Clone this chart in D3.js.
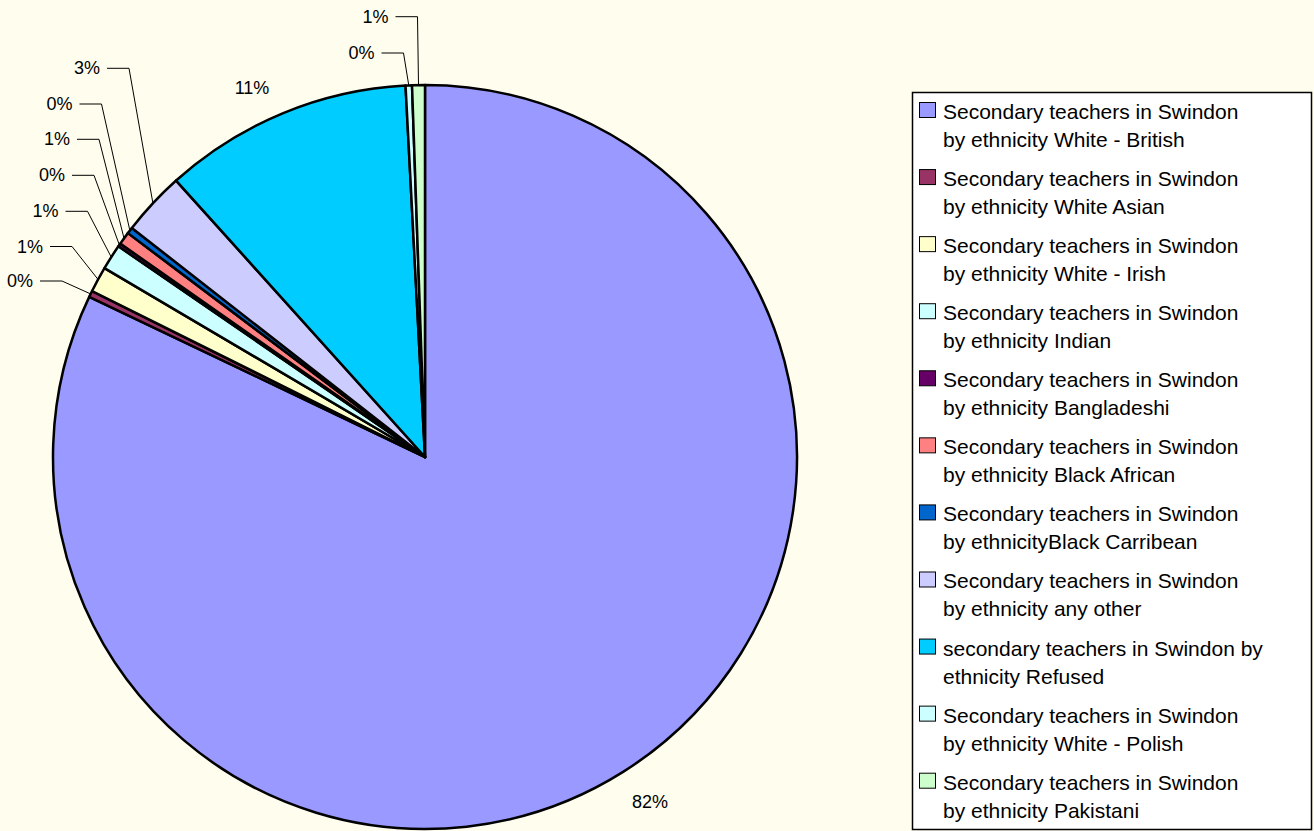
<!DOCTYPE html>
<html>
<head>
<meta charset="utf-8">
<script src="https://cdn.jsdelivr.net/npm/d3@7"></script>
<style>
  html, body { margin: 0; padding: 0; background: #FFFDEE; }
  svg { display: block; }
  text { font-family: "Liberation Sans", Arial, sans-serif; fill: #000; }
</style>
</head>
<body>
<script>
// ---- data ----
const categories = [
  "White - British", "White Asian", "White - Irish", "Indian", "Bangladeshi",
  "Black African", "Black Carribean", "any other", "Refused", "White - Polish", "Pakistani"
];
const values = [591, 2, 8, 8, 1, 4, 2, 20, 78, 2, 4];
const colors = ["#9999FF", "#993366", "#FFFFCC", "#CCFFFF", "#660066",
                "#FF8080", "#0066CC", "#CCCCFF", "#00CCFF", "#CCFFFF", "#CCFFCC"];
const legendLines = [
  ["Secondary teachers in Swindon", "by ethnicity White - British"],
  ["Secondary teachers in Swindon", "by ethnicity White Asian"],
  ["Secondary teachers in Swindon", "by ethnicity White - Irish"],
  ["Secondary teachers in Swindon", "by ethnicity Indian"],
  ["Secondary teachers in Swindon", "by ethnicity Bangladeshi"],
  ["Secondary teachers in Swindon", "by ethnicity Black African"],
  ["Secondary teachers in Swindon", "by ethnicityBlack Carribean"],
  ["Secondary teachers in Swindon", "by ethnicity any other"],
  ["secondary teachers in Swindon by", "ethnicity Refused"],
  ["Secondary teachers in Swindon", "by ethnicity White - Polish"],
  ["Secondary teachers in Swindon", "by ethnicity Pakistani"]
];

// ---- layout (label placement, not data) ----
// [x, y, anchor, hasLeader]
const labelLayout = [
  [650, 802, "middle", false],
  [33, 281, "end", true],
  [43, 246.5, "end", true],
  [58.5, 211.3, "end", true],
  [65, 175.3, "end", true],
  [70, 139.3, "end", true],
  [72.5, 104, "end", true],
  [100, 68.3, "end", true],
  [252, 88, "middle", false],
  [374.5, 53, "end", true],
  [388.5, 16.7, "end", true]
];

const W = 1314, H = 831;
const cx = 425, cy = 457, R = 372;

const svg = d3.select("body").append("svg")
  .attr("width", W).attr("height", H);
svg.append("rect").attr("width", W).attr("height", H).attr("fill", "#FFFDEE");

const total = d3.sum(values);
const pie = d3.pie().sort(null).value(d => d).startAngle(0).endAngle(2 * Math.PI);
const arcs = pie(values);
const arc = d3.arc().innerRadius(0).outerRadius(R);

const g = svg.append("g").attr("transform", `translate(${cx},${cy})`);
g.selectAll("path.slice").data(arcs).join("path")
  .attr("class", "slice")
  .attr("d", arc)
  .attr("fill", (d, i) => colors[i])
  .attr("stroke", "#000")
  .attr("stroke-width", 2.5)
  .attr("stroke-linejoin", "round");

// leader lines and labels
const fmt = v => Math.round(v / total * 100) + "%";
arcs.forEach((d, i) => {
  const [lx, ly, anchor, leader] = labelLayout[i];
  if (leader) {
    const mid = (d.startAngle + d.endAngle) / 2;
    const px = cx + R * Math.sin(mid), py = cy - R * Math.cos(mid);
    const x0 = lx + 7, x1 = lx + 29;
    svg.append("polyline")
      .attr("points", `${x0},${ly} ${x1},${ly} ${px},${py}`)
      .attr("fill", "none").attr("stroke", "#000").attr("stroke-width", 1);
  }
  svg.append("text")
    .attr("x", lx).attr("y", ly)
    .attr("text-anchor", anchor)
    .attr("dominant-baseline", "central")
    .attr("font-size", 18)
    .text(fmt(values[i]));
});

// legend
const lg = svg.append("g");
lg.append("rect")
  .attr("x", 912.5).attr("y", 92.5).attr("width", 399).attr("height", 737)
  .attr("fill", "#FFFFFF").attr("stroke", "#000").attr("stroke-width", 1.5);
const itemY = d3.scaleLinear().domain([0, categories.length - 1]).range([119, 119 + 670.7]);
categories.forEach((c, i) => {
  const y = itemY(i);
  lg.append("rect")
    .attr("x", 919.5).attr("y", y - 16.5).attr("width", 16).attr("height", 15)
    .attr("fill", colors[i]).attr("stroke", "#000").attr("stroke-width", 1);
  legendLines[i].forEach((t, k) => {
    lg.append("text")
      .attr("x", 943).attr("y", y + k * 28)
      .attr("font-size", 21)
      .text(t);
  });
});
</script>
</body>
</html>
